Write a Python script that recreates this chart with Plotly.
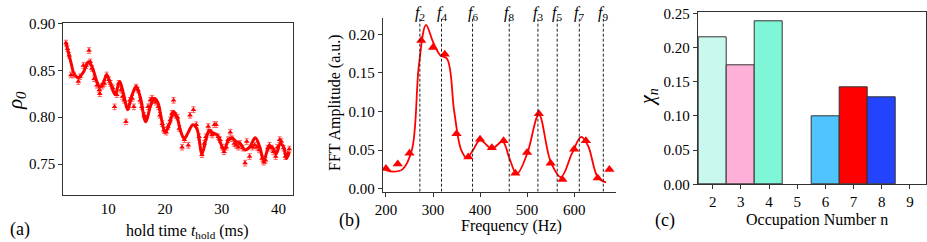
import plotly.graph_objects as go

# ---------------- Panel (a) data ----------------
hold_t = [2.53, 2.8, 3.1, 3.4, 3.9, 4.7, 5.0, 5.6, 6.1, 6.6, 6.8, 7.1, 7.5, 8.0, 8.4, 8.5, 8.9, 9.3, 9.7,
          10.1, 10.4, 10.8, 11.1, 11.5, 11.8, 12.2, 12.5, 12.8, 13.1, 13.5, 13.8, 14.2, 14.5, 14.9, 15.2,
          15.6, 15.9, 16.3, 16.6, 17.0, 17.4, 17.7, 18.1, 18.4, 18.8, 19.1, 19.5, 19.8, 20.2, 20.5, 20.9,
          21.2, 21.5, 21.8, 22.2, 22.5, 23.0, 23.4, 24.1, 24.4, 25.0, 25.5, 26.0, 26.5, 26.9, 27.2, 27.6,
          28.0, 28.3, 28.7, 29.0, 29.4, 29.7, 30.1, 30.4, 30.8, 31.1, 31.5, 31.8, 32.2, 32.5, 32.9, 33.2,
          33.7, 34.1, 34.4, 34.9, 35.4, 35.8, 36.2, 36.6, 37.1, 37.4, 37.7, 38.1, 38.4, 38.8, 39.1, 39.5,
          39.8, 40.2, 40.5, 40.9, 41.2, 41.6, 41.9]
rho0 = [0.879, 0.873, 0.866, 0.845, 0.845, 0.838, 0.843, 0.855, 0.855, 0.871, 0.859, 0.852, 0.841, 0.834,
        0.829, 0.825, 0.833, 0.836, 0.845, 0.840, 0.836, 0.831, 0.811, 0.824, 0.836, 0.829, 0.822, 0.818,
        0.795, 0.811, 0.818, 0.820, 0.811, 0.832, 0.829, 0.818, 0.811, 0.802, 0.799, 0.811, 0.818, 0.820,
        0.818, 0.816, 0.811, 0.802, 0.793, 0.786, 0.784, 0.790, 0.797, 0.804, 0.818, 0.802, 0.800, 0.788,
        0.768, 0.776, 0.770, 0.802, 0.808, 0.792, 0.779, 0.760, 0.772, 0.779, 0.790, 0.784, 0.781, 0.792,
        0.792, 0.779, 0.776, 0.768, 0.763, 0.768, 0.776, 0.784, 0.777, 0.772, 0.770, 0.768, 0.772, 0.767,
        0.751, 0.774, 0.758, 0.768, 0.770, 0.768, 0.765, 0.756, 0.752, 0.754, 0.767, 0.770, 0.767, 0.763,
        0.758, 0.768, 0.776, 0.774, 0.767, 0.758, 0.761, 0.766]
rho0_err = [0.003] * len(rho0)

fit_t = [2.5, 3.5, 3.9, 4.7, 5.6, 6.5, 7.1, 8.1, 8.5, 9.2, 9.7, 10.6, 11.2, 12.0, 12.7, 13.4, 14.1, 14.9,
         15.6, 16.6, 17.4, 18.1, 18.7, 19.4, 20.0, 20.8, 21.5, 22.1, 22.8, 23.4, 24.1, 24.9, 25.6, 26.5,
         27.2, 27.8, 28.5, 29.2, 29.8, 30.4, 31.2, 31.8, 32.5, 33.2, 34.1, 34.9, 35.9, 36.7, 37.4, 38.3,
         38.9, 39.6, 40.3, 40.9, 41.4, 41.9]
fit_rho = [0.880, 0.856, 0.847, 0.842, 0.848, 0.859, 0.854, 0.836, 0.832, 0.838, 0.845, 0.832, 0.824,
           0.838, 0.824, 0.808, 0.822, 0.833, 0.822, 0.795, 0.811, 0.820, 0.816, 0.797, 0.784, 0.793,
           0.806, 0.800, 0.784, 0.777, 0.784, 0.792, 0.788, 0.761, 0.776, 0.786, 0.783, 0.781, 0.772,
           0.765, 0.776, 0.778, 0.774, 0.772, 0.765, 0.768, 0.778, 0.768, 0.754, 0.768, 0.768, 0.761,
           0.772, 0.768, 0.756, 0.763]

# ---------------- Panel (b) data ----------------
freq = [200, 225, 250, 275, 300, 325, 350, 375, 400, 425, 450, 475, 500, 525, 550, 575, 600, 625, 650, 675]
fft_amp = [0.026, 0.032, 0.046, 0.192, 0.183, 0.174, 0.071, 0.041, 0.064, 0.053, 0.062, 0.020, 0.047,
           0.097, 0.033, 0.012, 0.051, 0.062, 0.014, 0.025]
fit_freq = [200, 215, 235, 255, 270, 285, 300, 315, 330, 345, 360, 372, 385, 400, 425, 448, 462, 478,
            500, 525, 550, 572, 595, 615, 630, 650, 668]
fit_amp = [0.024, 0.022, 0.025, 0.050, 0.160, 0.212, 0.190, 0.173, 0.168, 0.100, 0.050, 0.040, 0.050,
           0.063, 0.052, 0.061, 0.040, 0.019, 0.045, 0.096, 0.035, 0.015, 0.045, 0.067, 0.055, 0.015, 0.008]
mode_labels = ["2", "4", "6", "8", "3", "5", "7", "9"]
mode_freqs = [272, 318, 384, 462, 523, 564, 611, 662]

# ---------------- Panel (c) data ----------------
occ_n = [2, 3, 4, 5, 6, 7, 8, 9]
chi_n = [0.215, 0.1735, 0.239, 0.0, 0.100, 0.142, 0.127, 0.0]
bar_colors = ["#c8f8ee", "#ffb0d8", "#80f6d8", "#ffffff", "#50c4ff", "#ff0000", "#2244ff", "#ffffff"]

W, H = 927, 242
FONT = '"Liberation Serif", "Times New Roman", Times, serif'


def px(x):
    return x / W


def py(y):
    return 1 - y / H


fig = go.Figure()

# (a)
fig.add_trace(go.Scatter(
    x=hold_t, y=rho0, mode="markers", xaxis="x", yaxis="y",
    marker=dict(symbol="triangle-up", size=5, color="#ff0000"),
    error_y=dict(type="data", array=rho0_err, color="#ff5a5a", thickness=1, width=2),
    showlegend=False))
fig.add_trace(go.Scatter(
    x=fit_t, y=fit_rho, mode="lines", xaxis="x", yaxis="y",
    line=dict(color="#ff0000", width=3, shape="spline", smoothing=1.0), showlegend=False))

# (b)
fig.add_trace(go.Scatter(
    x=fit_freq, y=fit_amp, mode="lines", xaxis="x2", yaxis="y2",
    line=dict(color="#ff0000", width=1.8, shape="spline", smoothing=1.0), showlegend=False))
fig.add_trace(go.Scatter(
    x=freq, y=fft_amp, mode="markers", xaxis="x2", yaxis="y2",
    marker=dict(symbol="triangle-up", size=9, color="#ff0000"), showlegend=False))

# (c)
fig.add_trace(go.Bar(
    x=occ_n, y=chi_n, xaxis="x3", yaxis="y3", width=1.0,
    marker=dict(color=bar_colors,
                line=dict(color="#333333", width=[1 if v > 0 else 0 for v in chi_n])),
    showlegend=False))

tickfont = dict(family=FONT, size=15, color="black")


def ax(**kw):
    d = dict(showgrid=False, zeroline=False, ticks="outside", ticklen=4, tickwidth=1,
             tickcolor="#333", linecolor="#333", linewidth=1, showline=True, tickfont=tickfont,
             automargin=False)
    d.update(kw)
    return d


fig.update_layout(
    template="none",
    width=W, height=H, margin=dict(l=0, r=0, t=0, b=0, pad=0), autosize=False,
    paper_bgcolor="white", plot_bgcolor="white",
    bargap=0,
    font=dict(family=FONT, color="black"),
    xaxis=ax(domain=[px(63.3), px(292.7)], range=[2.06, 42.5], tickvals=[10, 20, 30, 40],
             anchor="y", mirror=True, ticks=""),
    yaxis=ax(domain=[py(195), py(22.7)], range=[0.717, 0.9007], tickvals=[0.75, 0.80, 0.85, 0.90],
             tickformat=".2f", anchor="x", mirror=True),
    xaxis2=ax(domain=[px(382.7), px(616)], range=[193, 689], tickvals=[200, 300, 400, 500, 600],
              anchor="y2"),
    yaxis2=ax(domain=[py(191.7), py(18.3)], range=[-0.0039, 0.2207],
              tickvals=[0, 0.05, 0.10, 0.15, 0.20], tickformat=".2f", anchor="x2"),
    xaxis3=ax(domain=[px(697.7), px(926)], range=[1.47, 9.57], tickvals=occ_n,
              anchor="y3", mirror=True),
    yaxis3=ax(domain=[py(184.3), py(12.3)], range=[0, 0.2515],
              tickvals=[0, 0.05, 0.10, 0.15, 0.20, 0.25], tickformat=".2f", anchor="x3",
              mirror=True),
)

shapes = []
for f in mode_freqs:
    shapes.append(dict(type="line", xref="x2", yref="y2", x0=f, x1=f, y0=-0.0039, y1=0.2207,
                       line=dict(color="#222", width=1, dash="3px,2px")))
fig.update_layout(shapes=shapes)

ann = []
for lab, f in zip(mode_labels, mode_freqs):
    ann.append(dict(x=f, xref="x2", y=py(13), yref="paper", text=f"<i>f</i><sub>{lab}</sub>",
                    showarrow=False, font=dict(family=FONT, size=16, color="black"),
                    xanchor="center", yanchor="middle"))


def label(x, y, text, size=16, angle=0):
    return dict(x=px(x), y=py(y), xref="paper", yref="paper", text=text, textangle=angle,
                showarrow=False, xanchor="center", yanchor="middle",
                font=dict(family=FONT, size=size, color="black"))


ann += [
    label(16, 100, "<i>ρ<sub>0</sub></i>", 21, -90),
    label(187, 231, "hold time <i>t</i><sub>hold</sub> (ms)", 16),
    label(20, 229, "(a)", 18),
    label(335, 103, "FFT Amplitude (a.u.)", 16, -90),
    label(512, 226, "Frequency (Hz)", 16),
    label(349, 220, "(b)", 18),
    label(648, 97, "<i>χ<sub>n</sub></i>", 20, -90),
    label(817, 220, "Occupation Number n", 16),
    label(665, 220, "(c)", 18),
]
fig.update_layout(annotations=ann)

fig.write_html("out.html", config={"displayModeBar": False},
               post_script="document.body.style.margin='0';document.body.style.padding='0';"
                           "document.body.style.overflow='hidden';")
